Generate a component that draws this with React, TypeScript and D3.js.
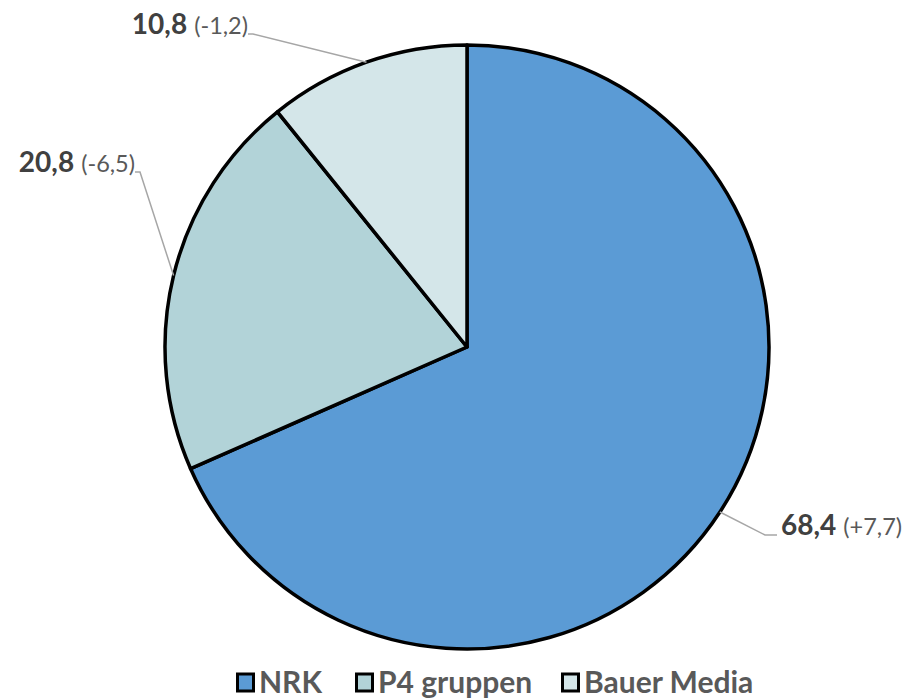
import React from "react";
import * as d3 from "d3";

const categories = ["NRK", "P4 gruppen", "Bauer Media"];
const values = [68.4, 20.8, 10.8];
const changes = ["(+7,7)", "(-6,5)", "(-1,2)"];
const valueLabels = ["68,4", "20,8", "10,8"];
const colors = ["#5B9BD5", "#B2D3D8", "#D4E6E9"];

const W = 914;
const H = 699;
const cx = 467;
const cy = 347;
const R = 302;

// label anchor points (end of leader line) relative to centre
const labelAnchors: [number, number, string][] = [
  [310, 188, "start"],
  [-332, -175, "end"],
  [-219, -313, "end"],
];

export default function App() {
  const pie = d3
    .pie<number>()
    .sort(null)
    .value((d) => d);
  const arcs = pie(values);
  const arc = d3.arc<d3.PieArcDatum<number>>().innerRadius(0).outerRadius(R);
  const font = "Lato, 'Open Sans', sans-serif";

  return (
    <svg width={W} height={H} style={{ position: "absolute", left: 0, top: 0 }}>
      <rect width={W} height={H} fill="#fff" />
      <g transform={`translate(${cx},${cy})`}>
        {arcs.map((a, i) => (
          <path key={i} d={arc(a) || ""} fill={colors[i]} stroke="#000" strokeWidth={3.5} strokeLinejoin="round" />
        ))}
        {arcs.map((a, i) => {
          const mid = (a.startAngle + a.endAngle) / 2;
          const px = R * Math.sin(mid);
          const py = -R * Math.cos(mid);
          const [lx, ly, anchor] = labelAnchors[i];
          const pts =
            anchor === "start"
              ? `${px},${py} ${lx - 12},${ly} ${lx},${ly}`
              : `${px},${py} ${lx + 5},${ly} ${lx},${ly}`;
          return <polyline key={i} points={pts} fill="none" stroke="#A6A6A6" strokeWidth={1.5} />;
        })}
        {arcs.map((a, i) => {
          const [lx, ly, anchor] = labelAnchors[i];
          const x = anchor === "start" ? lx + 4 : lx;
          return (
            <text key={i} x={x} y={ly} textAnchor={anchor} fontFamily={font}>
              <tspan fontWeight="bold" fontSize={28} fill="#404040">
                {valueLabels[i]}
              </tspan>
              <tspan fontSize={23.5} fill="#595959" dx={7}>
                {changes[i]}
              </tspan>
            </text>
          );
        })}
      </g>
      <g transform="translate(0,683)">
        {(() => {
          const xs = [236, 355, 561];
          return categories.map((c, i) => (
            <g key={c} transform={`translate(${xs[i]},0)`}>
              <rect x={1.5} y={-9} width={16} height={17} fill={colors[i]} stroke="#000" strokeWidth={3} />
              <text x={23} y={10} fontFamily={font} fontWeight="bold" fontSize={30} fill="#595959">
                {c}
              </text>
            </g>
          ));
        })()}
      </g>
    </svg>
  );
}
